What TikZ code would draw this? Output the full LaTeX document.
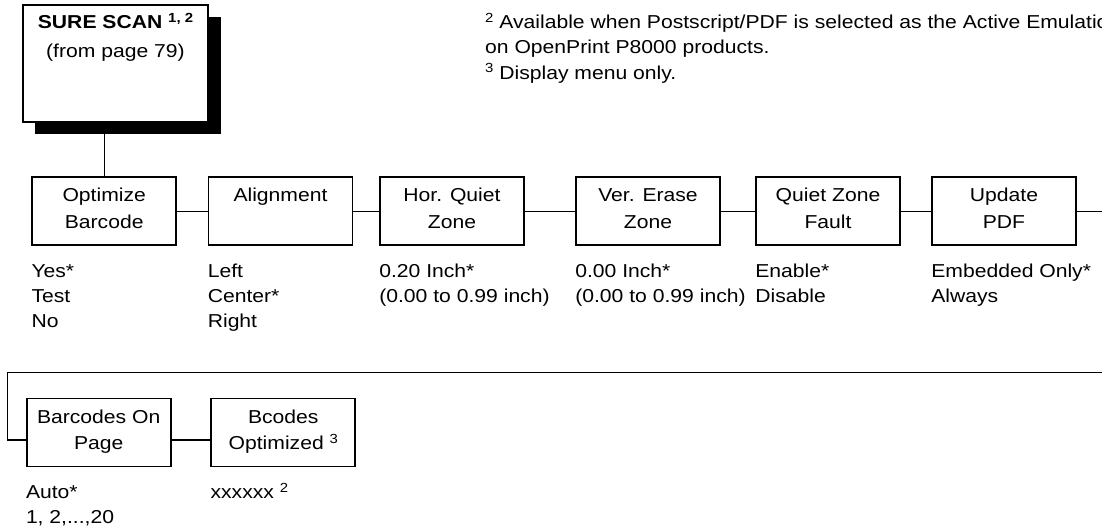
\documentclass[tikz,border=0pt]{standalone}
\usepackage{fontspec}
\setmainfont{Liberation Sans}[FakeStretch=1.13]
\usetikzlibrary{calc,shadows}
\newcommand{\supn}[1]{\raisebox{6.3pt}{\fontsize{13.2pt}{13.2pt}\selectfont #1}}
\newcommand{\tc}[1]{\begin{tabular}[t]{@{}c@{}}#1\end{tabular}}
\newcommand{\tl}[1]{\begin{tabular}[t]{@{}l@{}}#1\end{tabular}}
\begin{document}
\begin{tikzpicture}[x=1pt,y=-1pt,
  menubox/.style={draw, line width=1.8pt, minimum width=144pt, minimum height=68pt,
    inner sep=0pt, text height=12pt, text depth=30.6pt,
    font=\fontsize{18.7pt}{26.3pt}\selectfont},
  topbox/.style={draw, line width=1.8pt, fill=white, minimum width=185.6pt, minimum height=117pt,
    inner sep=0pt, text height=14pt, text depth=83.8pt,
    font=\fontsize{18.7pt}{29pt}\selectfont,
    drop shadow={shadow xshift=12.5pt, shadow yshift=-12.5pt, fill=black, opacity=1}},
  opts/.style={anchor=base west, inner sep=0pt,
    font=\fontsize{18.7pt}{25.3pt}\selectfont},
  conn/.style={line width=1.2pt}
]
\useasboundingbox (0,0) rectangle (1102,527);
\fill[white] (0,0) rectangle (1102,527);
\clip (0,0) rectangle (1102,527);

% top box
\node[topbox] (top) at (115.5,63.2) {\tc{\bfseries SURE SCAN \supn{1, 2}\\(from page 79)}};

% footnotes
\node[opts] (fn2) at (485,28.3) {\tl{\supn{2} Available when Postscript/PDF is selected as the Active Emulation\\on OpenPrint P8000 products.}};
\node[opts] (fn3) at (485,79) {\supn{3} Display menu only.};

% row 1
\node[menubox] (b1) at (104.2,211.2) {\tc{Optimize\\Barcode}};
\node[menubox] (b2) at (280.5,211.2) {\tc{Alignment}};
\node[menubox] (b3) at (452,211.2) {\tc{Hor. Quiet\\Zone}};
\node[menubox] (b4) at (648,211.2) {\tc{Ver. Erase\\Zone}};
\node[menubox] (b5) at (828,211.2) {\tc{Quiet Zone\\Fault}};
\node[menubox] (b6) at (1004,211.2) {\tc{Update\\PDF}};

% row 2
\node[menubox] (b7) at (98.7,432.5) {\tc{Barcodes On\\Page}};
\node[menubox] (b8) at (283.3,432.5) {\tc{Bcodes\\Optimized \supn{3}}};

% options
\node[opts] (o1) at ([yshift=-31pt]b1.south west) {\tl{Yes*\\Test\\No}};
\node[opts] (o2) at ([yshift=-31pt]b2.south west) {\tl{Left\\Center*\\Right}};
\node[opts] (o3) at ([yshift=-31pt]b3.south west) {\tl{0.20 Inch*\\(0.00 to 0.99 inch)}};
\node[opts] (o4) at ([yshift=-31pt]b4.south west) {\tl{0.00 Inch*\\(0.00 to 0.99 inch)}};
\node[opts] (o5) at ([yshift=-31pt]b5.south west) {\tl{Enable*\\Disable}};
\node[opts] (o6) at ([yshift=-31pt]b6.south west) {\tl{Embedded Only*\\Always}};
\node[opts] (o7) at ([yshift=-31pt]b7.south west) {\tl{Auto*\\1, 2,...,20}};
\node[opts] (o8) at ([yshift=-31pt]b8.south west) {xxxxxx \supn{2}};

% connectors
\coordinate (r1e) at (1102,211.2);
\coordinate (r2s) at (7.3,372.7);
\coordinate (r2e) at (1102,372.7);
\draw[conn] (b1.north) -- (b1.north |- top.south);
\draw[conn] (b1.east) -- (b2.west);
\draw[conn] (b2.east) -- (b3.west);
\draw[conn] (b3.east) -- (b4.west);
\draw[conn] (b4.east) -- (b5.west);
\draw[conn] (b5.east) -- (b6.west);
\draw[conn] (b6.east) -- (r1e);
\draw[conn] (r2e) -- (r2s) |- ($(b7.west)+(0,7.5)$);
\draw[conn] ($(b7.east)+(0,7.5)$) -- ($(b8.west)+(0,7.5)$);
\end{tikzpicture}
\end{document}
